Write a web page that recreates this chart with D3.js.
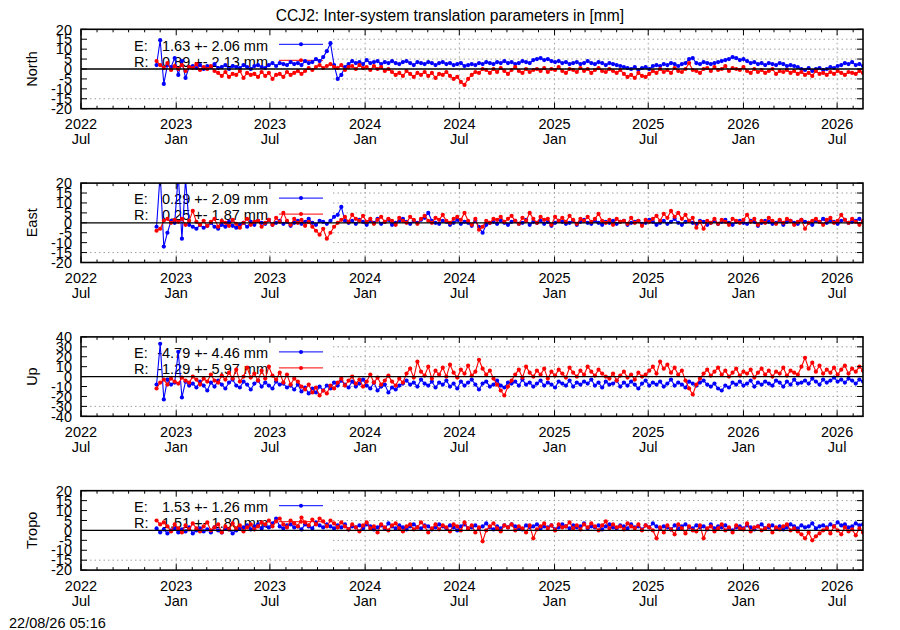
<!DOCTYPE html>
<html><head><meta charset="utf-8">
<script src="https://cdn.jsdelivr.net/npm/d3@7"></script>
<style>body{margin:0;background:#fff}</style>
</head><body><svg id="c" width="900" height="630"></svg>
<script>
const title = "CCJ2: Inter-system translation parameters in [mm]";
const timestamp = "22/08/26 05:16";
const panelNames = ["North","East","Up","Tropo"];
const yLimits = [20,20,40,20];
const yStep = [5,5,10,5];
const legendE = ["1.63 +- 2.06 mm","0.29 +- 2.09 mm","-4.79 +- 4.46 mm","1.53 +- 1.26 mm"];
const legendR = ["0.89 +- 2.13 mm","0.25 +- 1.87 mm","-1.29 +- 5.97 mm","1.51 +- 1.80 mm"];
const seriesStart = "2022-11-24"; // weekly samples
const stepDays = 7;

const northE = [2,14.5,-7.5,2,1,5.5,-3,4,-4.5,1,
1.5,0.5,2,0,1.5,1,2.5,0.5,1,2,0,1.5,1,0.5,2,1,0,1.5,2,1,0.5,
2,3,1.5,3,2.5,2,3.5,2.5,3,2,4,3,3.5,5,4,6,
9,13,2,-5,-3,1,
2.5,4,3,3.5,2.5,4.5,3,3.5,4,2.5,3.5,3,4,3,2.5,3.5,4,3,2,3.5,3,2.5,3.5,3,2,3,3.5,2.5,3,2,2.5,3,1.5,2,2.5,
2,3,2.5,3.5,3,2.5,3.5,3,4,3,3.5,2.5,3,4,3.5,3,4.5,5,
5.5,4.5,5,4,3.5,4,3,
3.5,2.5,3,3.5,2.5,3,4,3,2.5,3.5,3,2,3,2.5,2,1.5,1,
0.5,0,1,-0.5,0.5,1,0,1.5,
2,1.5,2.5,2,3,2.5,1.5,2.5,3,5,
5.5,3,2.5,3.5,3,2.5,3,3.5,4,4.5,
5,6,5.5,4.5,5,4,
3,3.5,2.5,3,2,3,2.5,2,3,2.5,1.5,2,1.5,1,
0,-0.5,0.5,-1,0,0.5,-0.5,0,1,0.5,1.5,
2,3,2.5,3.5,2,2.5,1.5];
const northR = [4,2,0.5,3,-0.5,1.5,0,2,-1,1,0.5,2.5,-0.5,1,0,1.5,-1,
-2,-3.5,-1.5,-4,-2.5,-3,-1,-4.5,-2,-3,-2.5,-4,-1.5,-3.5,-2,-5,-3,-2.5,-4,-1.5,-3,-2,-1,-2.5,
-1,0.5,-0.5,1,2,0.5,1.5,2.5,1,
0.5,2,-0.5,1,1.5,0,2,0.5,1,-0.5,1.5,0,1,-1,0,
-1.5,-3,-2,-3.5,-1,-2.5,-4,-2,-3,-1.5,-3.5,-2,-4.5,-2.5,-3,-1.5,-3.5,-5,-4,-6.5,-8,-5,
-3,-1.5,-2,0,
-0.5,-2,0,-1.5,0.5,-1,-2.5,-0.5,1,-1,-2,0,-1.5,-0.5,
0,-1,0.5,-1.5,0,-0.5,1,-1,-2,0,-0.5,-1.5,0.5,-1,0,-2,-0.5,0.5,-1,-1.5,0,-1,-2,-0.5,
-2.5,-4,-3,-4.5,-2,-3.5,-4,-2.5,
-1,-2,0,-1.5,-0.5,-2,0.5,-1,-1.5,0,3,-0.5,-1,-2,0,
0.5,-1,1,-0.5,0,1.5,-1,0.5,0,-0.5,1,
-1,-2,0,-1.5,-0.5,-2,-1,0,-2.5,-1,-1.5,-0.5,-2,-1,-2.5,
-1.5,-3,-2,-3.5,-1,-2.5,-2,-3,-1.5,-2.5,-1,-2,-3,-1.5,-2,-2.5,-1,-2];

const eastE = [-2,25,-12,-5,1,0,24,-8,22,-1,
-2,-3,-1,-2.5,-1.5,0,-2,-3,-1,-2,0.5,-1.5,-2.5,-1,0,-2,
0.5,-1,1,0,-0.5,1.5,-1,0,1,-0.5,0.5,-1.5,0,1,-0.5,0.5,2,0,-1,1,0.5,-0.5,1,3,4,
8,1,
0,1,-0.5,1.5,0.5,-1,1,0,2,-0.5,0.5,1.5,-1,0,1,2,0.5,-0.5,1,0,1.5,2.5,5,
1,0,-0.5,1,0.5,-1,0,1.5,-0.5,0.5,0,-1.5,1,-2,
-5,-1,0,
0.5,-0.5,1,0,-1,0.5,1,-0.5,0,1.5,-1,0.5,0,1,-0.5,0.5,-1.5,0,1,0.5,
-0.5,0,1,-1,0.5,1.5,0,-0.5,1,0,-1,0.5,0,1,-0.5,0.5,1,-1,0,0.5,
1,-0.5,0,1.5,0.5,-1,0,1,-0.5,0.5,2,0,-1,0.5,1,0,-0.5,1,0.5,-1,
0,1,-0.5,0.5,1.5,0,-1,0.5,1,0,-0.5,1,0.5,-1.5,0,1,0.5,-0.5,0,1,
-1,0.5,1,0,-0.5,1.5,0.5,0,-1,1,0.5,2,0,1,0.5,-0.5,1,1.5,0,0.5,
1,2,0.5];
const eastR = [-4,-3,1,2,0,1.5,0.5,2,-1,1,
6,0.5,-1,
1,-1.5,0.5,2,-2,1,0,-1.5,1.5,-0.5,-2.5,0,2,-1,0.5,1,-2,0,1.5,-1,2.5,0.5,
5,1,-1,2,0,1.5,-1.5,0.5,-2,
-4,-6,-3,-8,-5,-2,0,
1.5,3,0.5,4,2,1,3.5,0.5,2,-0.5,1.5,3,
0.5,2,1,-1,2.5,1,0,3,1.5,-0.5,2,3.5,1,0,2.5,1.5,4,1,0,2,3,1.5,
5,1,-1,2,-3.5,-2,1,0,2,
1.5,3,0.5,2,3.5,1,-0.5,2.5,1,5,2,0,3,1.5,2,-1,3,1,2.5,0.5,3.5,1.5,-0.5,2,1,3,0.5,2,4.5,1,
0,1.5,-1,2,0.5,1,-0.5,2.5,0,1,-1.5,1.5,0.5,
2,3.5,1,4.5,2.5,6,3,5,2,4,1,2.5,
-2.5,0.5,-3,
1,0,2,-0.5,1.5,0.5,-1,2,1,0,1.5,4,0.5,2,-1,1,0,2.5,1,-0.5,1.5,0,2,1,-1,0.5,1.5,-3,0,1,2,0.5,-1,1.5,2.5,0,1,4,1.5,0,2,0.5,-1,1];

const upE = [-8,33,-23,-3,-8,-6,25,-21,-5,-9,
-7,-11,-5,-9,-14,-6,-10,-4,-8,-12,-6,-3,-9,-11,-5,-8,-13,-7,-4,-10,-6,-9,-12,-5,-8,-7,-11,
-9,-13,-8,-15,-11,-17,-12,-16,-10,-14,-9,-12,
-6,-9,-4,-8,-11,-5,-10,-7,-3,-9,-12,-6,-14,-10,-8,-16,-11,-13,-9,-7,
-4,-8,-6,-10,-3,-7,-9,-5,-11,-6,
-8,-4,-10,-7,-12,-5,-9,-6,-3,-8,
-13,-7,-5,-10,-8,-4,-9,-11,-6,-7,
-5,-9,-3,-8,-6,-10,-7,-4,-9,-6,
-8,-11,-5,-7,-9,-4,-10,-6,-8,-5,
-7,-3,-9,-6,-11,-5,-8,-7,-4,-10,
-6,-9,-5,-8,-12,-7,-4,-9,-6,-8,
-5,-10,-7,-3,-9,-6,-8,-11,-5,-7,
-9,-6,-4,-8,-10,-7,-12,-14,-9,-11,
-6,-8,-5,-9,-7,-4,-10,-6,-8,-5,
-7,-9,-4,-6,-10,-5,-8,-3,-7,-6,
-4,-7,-2,-5,-8,-3,-6,-4,-1,-5,
-3,-6,-2,-4,-7,-3,-5];
const upR = [-12,-6,-3,-8,-2,-5,-7,-1,-4,-6,0,-3,-8,-2,-5,2,-4,
-6,1,-3,4,-2,7,-5,0,9,-1,3,-4,6,-2,10,1,
-3,4,-6,2,-8,-2,-5,-10,
-13,-8,-16,-11,-19,-14,-17,-9,-12,
-6,-2,-9,-4,0,-7,-3,-10,-5,2,-6,-1,-8,-4,1,-5,-9,-2,-6,
3,8,-1,15,5,1,10,-2,6,2,9,0,12,4,-1,7,3,11,1,5,17,8,2,6,-2,
-8,-14,-19,-10,-4,
2,7,-1,10,4,0,6,2,8,-2,5,1,7,3,-1,9,4,0,6,2,10,5,1,7,3,0,
-2,3,-4,1,5,-1,2,-3,4,0,2,
6,10,3,15,8,12,4,9,2,6,
-4,-12,-18,-8,-2,
3,7,1,5,9,2,6,0,4,8,1,5,3,7,-1,4,8,2,6,0,5,3,9,1,6,4,2,
10,19,8,14,5,11,3,7,
4,9,2,7,11,3,8,5,10,6];

const tropoE = [1,-1,0.5,-1.5,0,1,-1,0.5,-0.5,1.5,-1.5,0,1,-0.5,0.5,-1,1.5,0,-1,1,0.5,-1.5,0,1,
1.5,2.5,0.5,2,3,1,2.5,1.5,3.5,6,2,1,2.5,3,1.5,2,0.5,3,2,1,4,2.5,1.5,3,2,
1,2.5,1.5,3,0.5,2,1.5,2.5,1,3,
2,0.5,1.5,2.5,1,3.5,2,1,2.5,1.5,
0.5,2,3,1.5,1,2.5,2,0.5,1.5,3,
2,1,2.5,1.5,0,2,3,1,1.5,2.5,
1,2,3.5,1.5,0.5,2,1,2.5,1.5,3,
2,1,0.5,2.5,1.5,2,3,1,2,1.5,
2.5,0.5,1.5,3,2,1,2.5,1.5,2,3.5,
1,2,1.5,2.5,0.5,2,3,1.5,1,2.5,
2,1,3,1.5,2,0.5,2.5,1.5,3.5,2,
1,2,1.5,0.5,2.5,1,2,3,1.5,1,
2.5,1.5,2,0.5,3,1,2,1.5,2.5,1,
0,1.5,2,1,2.5,1.5,0.5,2,3,1,
1.5,2.5,1,2,0.5,1.5,3,2,1,2.5,
1.5,2,3.5,1,2,2.5,1.5,3,2,4,
2.5,3,1.5,2,3.5,2.5,3];
const tropoR = [5,3,4,
2,-0.5,3,1,-1,2.5,0.5,3.5,1,-0.5,2,4,0,1.5,3,-1,2,0.5,3.5,1,2.5,-0.5,1.5,3,0.5,2,4,
3,5,2,4.5,6,3,1.5,5,3.5,2,6.5,4,2.5,5.5,3,6,4.5,2,5,3.5,1.5,4,
2,0.5,3,1.5,-0.5,2.5,4,1,2,-1,3,1.5,0,2.5,3.5,1,-0.5,2,3,0.5,1.5,4,2,-1,1,3,0.5,2.5,1.5,-0.5,3,2,0,4,1,2.5,-1,1.5,
-5.5,0,
2,3.5,1,-0.5,2.5,1.5,3,0,2,1,-1,2.5,
-4,0.5,
2,3.5,1,2.5,0,3,1.5,2,4,1,2.5,0.5,3,1.5,3.5,2,0,2.5,4.5,1,3,1.5,2,0.5,3.5,2,1,3,0,2.5,1.5,
0,-4,1.5,-1,2.5,0.5,-2,3,1,-1.5,2,0,-0.5,2.5,
-4,1,
2,-0.5,1,3,0,1.5,-1,2.5,1,0.5,3.5,-0.5,1.5,2,0,1,2.5,-1,1.5,0.5,2,3,0,1,-0.5,
-2,-4,-1,-5,-3,-1.5,0,
1,-1.5,2,0,-2,1.5,-0.5,0.5,-2.5,1,-1];

const panelE = [northE, eastE, upE, tropoE];
const panelR = [northR, eastR, upR, tropoR];

const svg = d3.select("#c");
const font = "'Liberation Sans', Arial, Helvetica, sans-serif";
const fs = 14.5;
const L = 81, R = 863, H = 79.4;
const tops = [29.3, 183.1, 336.9, 490.7];
const x = d3.scaleTime().domain([new Date(2022,6,1), new Date(2026,7,20)]).range([L, R]);
const t0 = d3.timeParse("%Y-%m-%d")(seriesStart);
const dateAt = i => d3.timeDay.offset(t0, i*stepDays);
const majors = x.ticks(d3.timeMonth.every(6));
const minors = x.ticks(d3.timeMonth.every(1));
const fmtY = d3.timeFormat("%Y"), fmtM = d3.timeFormat("%b");

svg.append("text").attr("x", 450).attr("y", 20.5).attr("text-anchor","middle")
  .attr("font-family", font).attr("font-size", 15.6).text(title);
svg.append("text").attr("x", 9).attr("y", 627.5)
  .attr("font-family", font).attr("font-size", fs).text(timestamp);

panelNames.forEach((name, p) => {
  const top = tops[p], bot = top + H;
  const lim = yLimits[p];
  const y = d3.scaleLinear().domain([-lim, lim]).range([bot, top]);
  const g = svg.append("g");
  const yt = d3.range(-lim, lim + 0.001, yStep[p]);

  g.append("clipPath").attr("id", "clip" + p).append("rect")
    .attr("x", L).attr("y", top).attr("width", R - L).attr("height", H);

  // grid
  const grid = g.append("g").attr("stroke", "#a0a0a0").attr("stroke-width", 1).attr("stroke-dasharray", "1.5,3");
  yt.filter(v => v !== 0 && Math.abs(v) < lim).forEach(v => {
    grid.append("line").attr("x1", L).attr("x2", R).attr("y1", y(v)).attr("y2", y(v));
  });
  majors.filter(d => x(d) > L + 1 && x(d) < R - 1).forEach(d => {
    grid.append("line").attr("x1", x(d)).attr("x2", x(d)).attr("y1", top).attr("y2", bot);
  });

  // legend box (opaque)
  g.append("rect").attr("x", L + 1).attr("y", top + 1).attr("width", 332 - L - 1).attr("height", 64).attr("fill", "#fff");
  const leg = [[ "E:", legendE[p], "#0000ff", 21.2, 15 ], [ "R:", legendR[p], "#ff0000", 37.2, 31 ]];
  leg.forEach(([lab, val, col, ty, ly]) => {
    g.append("text").attr("x", 134).attr("y", top + ty).attr("font-family", font).attr("font-size", fs).text(lab);
    g.append("text").attr("x", 268).attr("y", top + ty).attr("text-anchor", "end").attr("font-family", font).attr("font-size", fs).text(val);
    g.append("line").attr("x1", 279).attr("x2", 323).attr("y1", top + ly).attr("y2", top + ly).attr("stroke", col).attr("stroke-width", 1);
    g.append("circle").attr("cx", 301).attr("cy", top + ly).attr("r", 2).attr("fill", col);
  });

  // data
  const dg = g.append("g").attr("clip-path", `url(#clip${p})`);
  [[panelE[p], "#0000ff"], [panelR[p], "#ff0000"]].forEach(([vals, col]) => {
    const pts = vals.map((v, i) => [dateAt(i), v]);
    dg.append("path").datum(pts).attr("fill", "none").attr("stroke", col).attr("stroke-width", 1.1)
      .attr("d", d3.line().x(d => x(d[0])).y(d => y(d[1])));
    dg.selectAll(null).data(pts).enter().append("circle")
      .attr("cx", d => x(d[0])).attr("cy", d => y(d[1])).attr("r", 2.1).attr("fill", col);
  });

  // zero line
  g.append("line").attr("x1", L).attr("x2", R).attr("y1", y(0)).attr("y2", y(0)).attr("stroke", "#000").attr("stroke-width", 1.3);

  // ticks
  const tk = g.append("g").attr("stroke", "#000").attr("stroke-width", 1);
  yt.forEach(v => {
    tk.append("line").attr("x1", L).attr("x2", L + 6).attr("y1", y(v)).attr("y2", y(v));
    tk.append("line").attr("x1", R - 6).attr("x2", R).attr("y1", y(v)).attr("y2", y(v));
  });
  minors.forEach(d => {
    const isMaj = d.getMonth() % 6 === 0;
    const len = isMaj ? 6 : 3;
    tk.append("line").attr("x1", x(d)).attr("x2", x(d)).attr("y1", bot).attr("y2", bot - len);
    tk.append("line").attr("x1", x(d)).attr("x2", x(d)).attr("y1", top).attr("y2", top + len);
  });

  // border
  g.append("rect").attr("x", L).attr("y", top).attr("width", R - L).attr("height", H)
    .attr("fill", "none").attr("stroke", "#000").attr("stroke-width", 1.6);

  // y tick labels
  yt.forEach(v => {
    g.append("text").attr("x", 72).attr("y", y(v)).attr("dy", "0.36em").attr("text-anchor", "end")
      .attr("font-family", font).attr("font-size", fs).text(v);
  });
  // x tick labels
  majors.forEach(d => {
    g.append("text").attr("x", x(d)).attr("y", bot + 20.5).attr("text-anchor", "middle")
      .attr("font-family", font).attr("font-size", fs).text(fmtY(d));
    g.append("text").attr("x", x(d)).attr("y", bot + 35.5).attr("text-anchor", "middle")
      .attr("font-family", font).attr("font-size", fs).text(fmtM(d));
  });
  // axis label
  g.append("text").attr("transform", `translate(37,${top + H / 2}) rotate(-90)`).attr("text-anchor", "middle")
    .attr("font-family", font).attr("font-size", fs).text(name);
});
</script></body></html>
